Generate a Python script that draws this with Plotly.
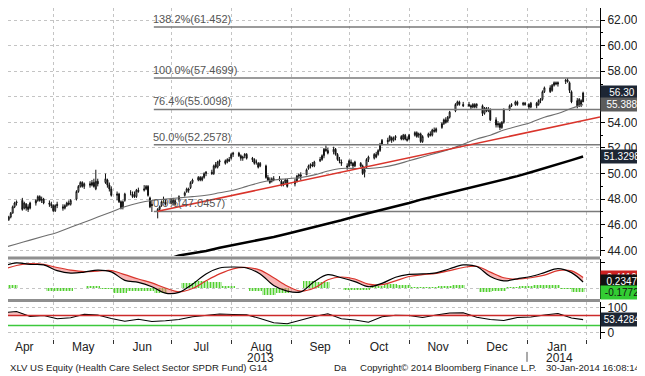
import pandas as pd
import plotly.graph_objects as go
from plotly.subplots import make_subplots

# ---------------- data ----------------
holidays = ['2013-05-27', '2013-07-04', '2013-09-02', '2013-11-28',
            '2013-12-25', '2014-01-01', '2014-01-20']
dates = pd.bdate_range('2013-04-04', '2014-01-30')
dates = dates[~dates.isin(pd.to_datetime(holidays))]

opens = [
    46.5, 46.2,
    46.4, 46.6, 46.9, 47.4, 47.7,
    47.9, 47.3, 47.6, 47.4, 47.3,
    47.7, 47.9, 48.2, 47.9, 48.0,
    47.7, 47.6, 47.5, 47.1, 47.6,
    47.4, 47.3, 47.5, 47.7, 47.6,
    48.0, 48.6, 49.0, 49.3, 49.0,
    49.2, 49.1, 49.3, 48.8, 49.4,
    49.3, 49.5, 49.1, 48.8,
    48.3, 48.4, 47.8, 47.4, 47.9,
    48.5, 48.4, 48.3, 48.2, 48.7,
    48.7, 48.8, 49.0, 48.1, 47.6,
    47.2, 47.2, 47.5, 47.9, 47.8,
    47.7, 47.9, 47.6, 48.0,
    48.3, 48.6, 48.8, 48.9, 49.3,
    49.5, 49.7, 49.5, 49.7, 50.0,
    50.1, 50.0, 50.7, 50.5, 50.9,
    51.0, 50.9, 51.1, 51.2, 51.5,
    51.6, 51.4, 51.2, 51.4, 51.5,
    51.2, 51.1, 50.9, 50.8, 50.6,
    50.6, 49.7, 49.5, 49.4, 49.6,
    49.6, 49.4, 49.1, 49.3, 49.5,
    49.2, 49.4, 49.8, 49.9,
    49.9, 50.4, 50.6, 50.7, 50.6,
    51.0, 51.1, 51.4, 51.9, 51.8,
    51.7, 51.9, 51.5, 51.1, 50.9,
    50.6, 50.6, 50.9, 50.8, 50.6,
    50.8, 50.6, 50.1, 50.5, 51.1,
    51.2, 51.5, 51.5, 51.8, 52.3,
    52.6, 52.6, 52.8, 52.6, 52.8,
    52.9, 52.7, 53.0, 52.7, 52.7,
    53.0, 53.2, 53.0, 53.1, 52.5,
    52.9, 53.1, 53.0, 53.4, 53.3,
    53.6, 53.9, 54.2, 54.1, 54.4,
    54.9, 55.4, 55.6, 55.4,
    55.4, 55.3, 55.2, 55.4, 55.3,
    55.3, 54.7, 55.1, 54.9, 55.0,
    54.2, 53.8, 53.9, 53.6, 54.0,
    55.0, 55.3, 55.4, 55.6,
    55.4, 55.5, 55.4, 55.2,
    55.5, 55.4, 55.7, 55.8, 56.4,
    56.7, 56.5, 56.9, 57.1, 57.0,
    57.2, 57.3, 57.1, 56.4,
    55.7, 55.3, 55.7, 55.6,
]
highs = [
    46.7, 46.5,
    46.7, 47.0, 47.5, 47.8, 47.9,
    48.1, 47.8, 47.7, 47.6, 47.8,
    48.0, 48.3, 48.3, 48.2, 48.1,
    47.9, 47.8, 47.6, 47.6, 47.8,
    47.6, 47.6, 47.8, 47.9, 48.0,
    48.7, 49.1, 49.4, 49.4, 49.3,
    49.4, 49.5, 49.6, 50.3, 49.6,
    50.0, 49.6, 49.3, 49.0,
    48.6, 48.5, 47.9, 47.9, 48.5,
    48.7, 48.6, 48.6, 48.8, 48.9,
    49.1, 49.1, 49.1, 48.2, 47.9,
    47.3, 47.5, 47.9, 48.2, 48.0,
    48.1, 48.1, 48.0, 48.3,
    48.6, 48.9, 48.9, 49.4, 49.6,
    49.8, 49.8, 49.8, 50.1, 50.2,
    50.3, 50.7, 50.9, 51.0, 51.1,
    51.1, 51.2, 51.3, 51.6, 51.7,
    51.7, 51.5, 51.4, 51.6, 51.6,
    51.3, 51.2, 51.1, 50.9, 50.9,
    50.7, 49.9, 49.7, 49.7, 49.8,
    49.8, 49.5, 49.4, 49.6, 49.6,
    49.6, 49.9, 50.0, 50.1,
    50.4, 50.7, 50.8, 50.9, 51.0,
    51.3, 51.5, 52.0, 52.2, 52.0,
    52.1, 52.0, 51.6, 51.3, 51.1,
    50.8, 51.1, 51.1, 50.9, 51.0,
    50.9, 50.7, 50.5, 51.2, 51.4,
    51.6, 51.7, 51.9, 52.4, 52.7,
    52.8, 53.0, 52.9, 52.9, 53.0,
    53.0, 53.1, 53.1, 52.9, 53.1,
    53.3, 53.3, 53.2, 53.2, 53.0,
    53.2, 53.3, 53.5, 53.6, 53.6,
    54.0, 54.3, 54.4, 54.5, 54.9,
    55.5, 55.7, 55.7, 55.6,
    55.6, 55.4, 55.5, 55.5, 55.5,
    55.4, 55.2, 55.2, 55.2, 55.1,
    54.4, 54.1, 54.0, 54.1, 55.1,
    55.4, 55.5, 55.7, 55.7,
    55.6, 55.6, 55.5, 55.6,
    55.6, 55.8, 55.9, 56.5, 56.8,
    56.9, 57.0, 57.2, 57.2, 57.2,
    57.4, 57.47, 57.2, 56.5,
    55.9, 55.9, 55.8, 56.4,
]
lows = [
    46.2, 45.9,
    46.3, 46.5, 46.9, 47.3, 47.5,
    47.1, 47.2, 47.1, 47.0, 47.2,
    47.5, 47.8, 47.8, 47.7, 47.6,
    47.4, 47.3, 47.0, 47.0, 47.3,
    47.1, 47.2, 47.4, 47.5, 47.5,
    47.9, 48.5, 48.9, 48.9, 48.8,
    48.9, 49.0, 48.9, 48.7, 49.0,
    49.2, 48.9, 48.6, 48.2,
    47.9, 47.7, 47.2, 47.2, 47.8,
    48.3, 48.1, 48.1, 48.1, 48.5,
    48.6, 48.7, 48.2, 47.3, 47.0,
    46.5, 47.0, 47.4, 47.7, 47.5,
    47.6, 47.5, 47.5, 47.8,
    48.2, 48.5, 48.5, 48.8, 49.2,
    49.4, 49.4, 49.4, 49.6, 49.8,
    49.9, 49.9, 50.4, 50.4, 50.6,
    50.7, 50.8, 50.9, 51.1, 51.3,
    51.3, 51.0, 51.0, 51.2, 51.1,
    50.9, 50.7, 50.7, 50.4, 50.5,
    49.6, 49.4, 49.2, 49.3, 49.4,
    49.4, 49.0, 49.0, 49.2, 48.9,
    49.0, 49.3, 49.6, 49.5,
    49.9, 50.3, 50.4, 50.5, 50.5,
    50.9, 51.0, 51.2, 51.7, 51.5,
    51.5, 51.4, 51.0, 50.8, 50.6,
    50.3, 50.5, 50.6, 50.4, 50.5,
    50.5, 49.9, 49.7, 50.4, 50.9,
    51.1, 51.2, 51.4, 51.7, 52.2,
    52.3, 52.5, 52.4, 52.5, 52.6,
    52.6, 52.6, 52.6, 52.5, 52.6,
    52.9, 52.8, 52.8, 52.4, 52.4,
    52.8, 52.9, 52.9, 53.2, 53.2,
    53.5, 53.8, 53.9, 54.0, 54.3,
    54.8, 55.3, 55.3, 55.2,
    55.2, 55.0, 55.1, 55.1, 55.1,
    54.5, 54.6, 54.8, 54.8, 54.1,
    53.6, 53.6, 53.4, 53.5, 53.9,
    54.9, 55.2, 55.3, 55.3,
    55.3, 55.3, 55.0, 55.1,
    55.1, 55.3, 55.5, 55.7, 56.3,
    56.3, 56.4, 56.8, 56.9, 56.8,
    57.0, 57.1, 56.3, 55.5,
    55.1, 55.2, 55.2, 55.6,
]
closes = [
    46.4, 46.4,
    46.6, 46.9, 47.4, 47.7, 47.8,
    47.2, 47.7, 47.3, 47.2, 47.7,
    47.9, 48.2, 47.9, 48.0, 47.7,
    47.6, 47.5, 47.1, 47.5, 47.5,
    47.3, 47.5, 47.7, 47.6, 47.9,
    48.6, 49.0, 49.3, 49.0, 49.2,
    49.1, 49.3, 49.0, 49.4, 49.2,
    49.6, 49.1, 48.8, 48.3,
    48.4, 47.8, 47.3, 47.8, 48.4,
    48.5, 48.2, 48.2, 48.7, 48.6,
    48.8, 49.0, 48.3, 47.4, 47.5,
    47.05, 47.4, 47.8, 47.9, 47.6,
    47.9, 47.7, 47.9, 48.2,
    48.5, 48.8, 48.7, 49.3, 49.5,
    49.7, 49.5, 49.7, 50.0, 50.1,
    50.0, 50.6, 50.5, 50.9, 51.0,
    50.8, 51.1, 51.0, 51.5, 51.6,
    51.4, 51.2, 51.3, 51.5, 51.2,
    51.1, 50.8, 50.9, 50.5, 50.8,
    49.7, 49.5, 49.3, 49.6, 49.5,
    49.5, 49.1, 49.3, 49.5, 49.0,
    49.4, 49.8, 49.9, 49.8,
    50.3, 50.6, 50.7, 50.6, 50.9,
    51.1, 51.4, 51.9, 51.8, 51.6,
    51.9, 51.5, 51.1, 51.0, 50.8,
    50.5, 51.0, 50.8, 50.6, 50.9,
    50.6, 50.0, 50.3, 51.1, 51.3,
    51.5, 51.3, 51.8, 52.3, 52.6,
    52.5, 52.9, 52.6, 52.8, 52.9,
    52.7, 53.0, 52.7, 52.6, 53.0,
    53.2, 52.9, 53.1, 52.5, 52.9,
    53.1, 53.0, 53.4, 53.3, 53.5,
    53.9, 54.2, 54.0, 54.4, 54.8,
    55.4, 55.6, 55.4, 55.3,
    55.3, 55.2, 55.4, 55.2, 55.4,
    54.7, 55.1, 54.9, 55.0, 54.2,
    53.8, 53.9, 53.6, 54.0, 55.0,
    55.3, 55.4, 55.6, 55.4,
    55.5, 55.4, 55.2, 55.5,
    55.3, 55.7, 55.8, 56.4, 56.7,
    56.4, 56.9, 57.1, 57.0, 57.1,
    57.3, 57.2, 56.5, 55.6,
    55.3, 55.8, 55.4, 56.3,
]
assert len(dates) == len(opens) == len(highs) == len(lows) == len(closes)

# weekly (Friday) readings for indicator lines
wk_dates = list(pd.date_range('2013-04-05', '2014-01-24', freq='W-FRI')) + [pd.Timestamp('2014-01-30')]

ma_short = [44.2, 44.5, 44.8, 45.1, 45.4, 45.8, 46.2, 46.6, 47.0, 47.4, 47.7, 47.9,
            48.0, 48.1, 48.2, 48.3, 48.5, 48.7, 49.0, 49.3, 49.5, 49.6, 49.7, 49.9,
            50.2, 50.4, 50.4, 50.4, 50.5, 50.7, 51.0, 51.3, 51.6, 51.9, 52.3, 52.7,
            53.0, 53.4, 53.7, 54.0, 54.4, 54.7, 55.1, 55.388]

ma_long_dates = wk_dates[10:]
ma_long = [42.8, 43.0, 43.25, 43.6, 43.75, 43.95, 44.2, 44.4, 44.6, 44.85, 45.05,
           45.3, 45.55, 45.8, 46.1, 46.35, 46.65, 46.9, 47.15, 47.45, 47.7, 48.0,
           48.25, 48.5, 48.75, 49.05, 49.3, 49.55, 49.8, 50.1, 50.4, 50.75, 51.05, 51.3298]

macd = [0.85, 0.98, 0.92, 0.90, 0.68, 0.58, 0.62, 0.70, 0.63, 0.30, 0.22, 0.05,
        -0.20, -0.17, 0.15, 0.55, 0.78, 0.82, 0.78, 0.55, 0.10, -0.12, -0.15, 0.25,
        0.52, 0.40, 0.25, 0.05, 0.18, 0.42, 0.53, 0.55, 0.59, 0.75, 0.90, 0.84,
        0.45, 0.28, 0.36, 0.45, 0.60, 0.76, 0.60, 0.2347]
signal = [0.72, 0.88, 0.95, 0.92, 0.80, 0.70, 0.64, 0.66, 0.68, 0.52, 0.35, 0.20,
          0.00, -0.15, -0.02, 0.28, 0.55, 0.75, 0.80, 0.70, 0.40, 0.08, -0.12, 0.00,
          0.32, 0.43, 0.35, 0.15, 0.13, 0.28, 0.45, 0.52, 0.57, 0.68, 0.80, 0.85,
          0.62, 0.40, 0.35, 0.40, 0.50, 0.68, 0.67, 0.4119]
hist = [0.13, 0.10, -0.03, -0.02, -0.12, -0.12, -0.02, 0.04, -0.05, -0.22, -0.13, -0.15,
        -0.20, -0.02, 0.17, 0.27, 0.23, 0.07, -0.02, -0.15, -0.30, -0.20, -0.03, 0.25,
        0.20, -0.03, -0.10, -0.10, 0.05, 0.14, 0.08, 0.03, 0.02, 0.07, 0.10, -0.01,
        -0.17, -0.12, 0.01, 0.05, 0.10, 0.08, -0.07, -0.1772]
rsi = [81, 86, 66, 70, 57, 61, 75, 72, 58, 47, 55, 46, 49, 54, 65, 72, 76, 74, 73,
       58, 41, 37, 52, 66, 77, 57, 52, 43, 65, 71, 70, 62, 72, 80, 81, 63, 54, 50,
       62, 64, 72, 78, 60, 53.4284]
RSI_UPPER, RSI_LOWER = 70, 30

trend_dates = ['2013-06-24', '2014-02-07 18:00']
trend_values = [47.05, 54.42]

fib_pcts = ['138.2%', '100.0%', '76.4%', '50.0%', '0.0%']
fib_values = [61.452, 57.4699, 55.0098, 52.2578, 47.0457]
fib_start = '2013-06-22'

X_RANGE = ['2013-04-07 14:00', '2014-02-07 18:00']

# ---------------- figure ----------------
FONT = 'Liberation Sans'
fig = make_subplots(rows=3, cols=1, shared_xaxes=True, vertical_spacing=0.01)

# fib lines + labels
for pct, val in zip(fib_pcts, fib_values):
    fig.add_trace(go.Scatter(x=[fib_start, X_RANGE[1]], y=[val, val], mode='lines',
                             line=dict(color='#7a7a7a', width=1.5), hoverinfo='skip',
                             showlegend=False), row=1, col=1)
    fig.add_annotation(x=fib_start, y=val, xref='x', yref='y', text=f'{pct}({val})',
                       showarrow=False, xanchor='left', yanchor='bottom', xshift=-3, yshift=0,
                       font=dict(family=FONT, size=11, color='#555555'))

fig.add_trace(go.Scatter(x=ma_long_dates, y=ma_long, mode='lines',
                         line=dict(color='black', width=2.5), hoverinfo='skip',
                         showlegend=False), row=1, col=1)
fig.add_trace(go.Scatter(x=wk_dates, y=ma_short, mode='lines',
                         line=dict(color='#6e6e6e', width=1.1, shape='spline'), hoverinfo='skip',
                         showlegend=False), row=1, col=1)
fig.add_trace(go.Scatter(x=trend_dates, y=trend_values, mode='lines',
                         line=dict(color='#d9342b', width=1.5), hoverinfo='skip',
                         showlegend=False), row=1, col=1)
fig.add_trace(go.Candlestick(x=dates, open=opens, high=highs, low=lows, close=closes,
                             increasing=dict(line=dict(color='#111111', width=1), fillcolor='#f2f2f2'),
                             decreasing=dict(line=dict(color='#111111', width=1), fillcolor='#111111'),
                             whiskerwidth=0, showlegend=False), row=1, col=1)

# MACD panel
fig.add_trace(go.Bar(x=wk_dates, y=hist, width=7 * 86400000, offset=-6 * 86400000,
                     marker=dict(color='rgba(0,0,0,0)', line=dict(width=0),
                                 pattern=dict(shape='|', fgcolor='#52d030', bgcolor='rgba(0,0,0,0)',
                                              size=3, solidity=0.6, fillmode='replace')),
                     showlegend=False, hoverinfo='skip'), row=2, col=1)
macd_low = [min(a, b) for a, b in zip(macd, signal)]
fig.add_trace(go.Scatter(x=wk_dates, y=macd_low, mode='lines', line=dict(width=0, shape='spline'),
                         showlegend=False, hoverinfo='skip'), row=2, col=1)
fig.add_trace(go.Scatter(x=wk_dates, y=signal, mode='lines', fill='tonexty',
                         fillcolor='rgba(240,120,120,0.55)',
                         line=dict(color='#d9342b', width=1.2, shape='spline'),
                         showlegend=False, hoverinfo='skip'), row=2, col=1)
fig.add_trace(go.Scatter(x=wk_dates, y=macd, mode='lines',
                         line=dict(color='black', width=1.2, shape='spline'),
                         showlegend=False, hoverinfo='skip'), row=2, col=1)

# RSI panel
fig.add_trace(go.Scatter(x=wk_dates, y=[RSI_UPPER] * len(rsi), mode='lines', line=dict(width=0),
                         showlegend=False, hoverinfo='skip'), row=3, col=1)
fig.add_trace(go.Scatter(x=wk_dates, y=[max(v, RSI_UPPER) for v in rsi], mode='lines',
                         fill='tonexty', fillcolor='rgba(240,120,120,0.45)', line=dict(width=0),
                         showlegend=False, hoverinfo='skip'), row=3, col=1)
for lvl, col in ((RSI_UPPER, '#cc2a2a'), (RSI_LOWER, '#3cc83c')):
    fig.add_shape(type='line', xref='x3 domain', yref='y3', x0=0, x1=1, y0=lvl, y1=lvl,
                  line=dict(color=col, width=1.3))
fig.add_trace(go.Scatter(x=wk_dates, y=rsi, mode='lines', line=dict(color='black', width=1.1),
                         showlegend=False, hoverinfo='skip'), row=3, col=1)

# ---------------- axes ----------------
grid = dict(showgrid=True, gridcolor='#c4c4c4', griddash='dot', gridwidth=1)
xcommon = dict(range=X_RANGE, dtick='M1', tick0='2013-01-01', showline=False, zeroline=False,
               automargin=False, **grid)
ycommon = dict(side='right', showline=True, linecolor='black', linewidth=1, ticks='outside',
               ticklen=4, tickcolor='black', zeroline=False, automargin=False, **grid)
fig.update_layout(
    xaxis=dict(**xcommon, showticklabels=False, ticks='', rangeslider=dict(visible=False)),
    xaxis2=dict(**xcommon, showticklabels=False, ticks=''),
    xaxis3=dict(**xcommon, showticklabels=True, ticks='outside', ticklen=4, tickcolor='#333',
                tickformat='%b', ticklabelmode='period', ticklabelstandoff=-7,
                tickfont=dict(family=FONT, size=12, color='#222')),
    yaxis=dict(**ycommon, domain=[0.2508, 1.0], range=[43.56, 62.94], dtick=2, tick0=0,
               tickformat='.2f',
               minor=dict(dtick=1, ticklen=2, ticks='outside', tickcolor='black'),
               tickfont=dict(family=FONT, size=12, color='#222')),
    yaxis2=dict(**ycommon, domain=[0.1208, 0.2402], range=[-0.43, 1.113], dtick=1, tick0=0,
                showticklabels=False),
    yaxis3=dict(**ycommon, domain=[0.0, 0.1118], range=[-24, 124], tickvals=[0, 100],
                ticktext=['0', '100'], tickfont=dict(family=FONT, size=12, color='#222')),
    width=637, height=368, margin=dict(l=0, r=45, t=0, b=37, autoexpand=False),
    paper_bgcolor='white', plot_bgcolor='white', showlegend=False, bargap=0,
)

# panel separators
for yp in (0.2447, 0.1163):
    fig.add_shape(type='line', xref='paper', yref='paper', x0=0, x1=1, y0=yp, y1=yp,
                  line=dict(color='#8f8f8f', width=3))

# value tags on the right (right-aligned at the figure edge)
def tag(text, yval, yref, bg, fg='white'):
    fig.add_annotation(x=1.0, xref='paper', xanchor='right', xshift=44, y=yval, yref=yref,
                       yanchor='middle', text=text, showarrow=False, bgcolor=bg, borderpad=1,
                       width=40, align='center',
                       font=dict(family=FONT, size=10, color=fg))

tag(f'{closes[-1]:.2f}', closes[-1], 'y', '#1d2634')
tag(f'{ma_short[-1]}', ma_short[-1], 'y', '#5c5c5c')
tag(f'{ma_long[-1]}', ma_long[-1], 'y', '#1d2634')
tag(f'{signal[-1]}', signal[-1], 'y2', '#cc2222')
tag(f'{macd[-1]}', macd[-1], 'y2', '#111111')
tag(f'{hist[-1]}', hist[-1], 'y2', '#33cc33', fg='#111111')
tag(f'{rsi[-1]}', rsi[-1], 'y3', '#1d2634')

# year labels and divider
for txt, xd in (('2013', '2013-08-16'), ('2014', '2014-01-18')):
    fig.add_annotation(x=xd, xref='x3', y=-0.0574, yref='paper', yanchor='middle', text=txt,
                       showarrow=False, font=dict(family=FONT, size=12, color='#222'))
fig.add_shape(type='line', xref='x3', yref='paper', x0='2014-01-01', x1='2014-01-01',
              y0=-0.039, y1=-0.069, line=dict(color='#555', width=1))

# footer
foot = dict(family=FONT, size=9.6, color='#222')
for txt, xp in (('XLV US Equity (Health Care Select Sector SPDR Fund) G14', 0.0),
                ('Da', 0.547), ('Copyright\u00a9 2014 Bloomberg Finance L.P.', 0.591)):
    fig.add_annotation(x=xp, xref='paper', xanchor='left', y=-0.0876, yref='paper',
                       yanchor='middle', text=txt, showarrow=False, font=foot)
fig.add_annotation(x=1.0, xref='paper', xanchor='right', xshift=43, y=-0.0876, yref='paper',
                   yanchor='middle', text='30-Jan-2014 16:08:14', showarrow=False, font=foot)

fig.write_html('out.html')
